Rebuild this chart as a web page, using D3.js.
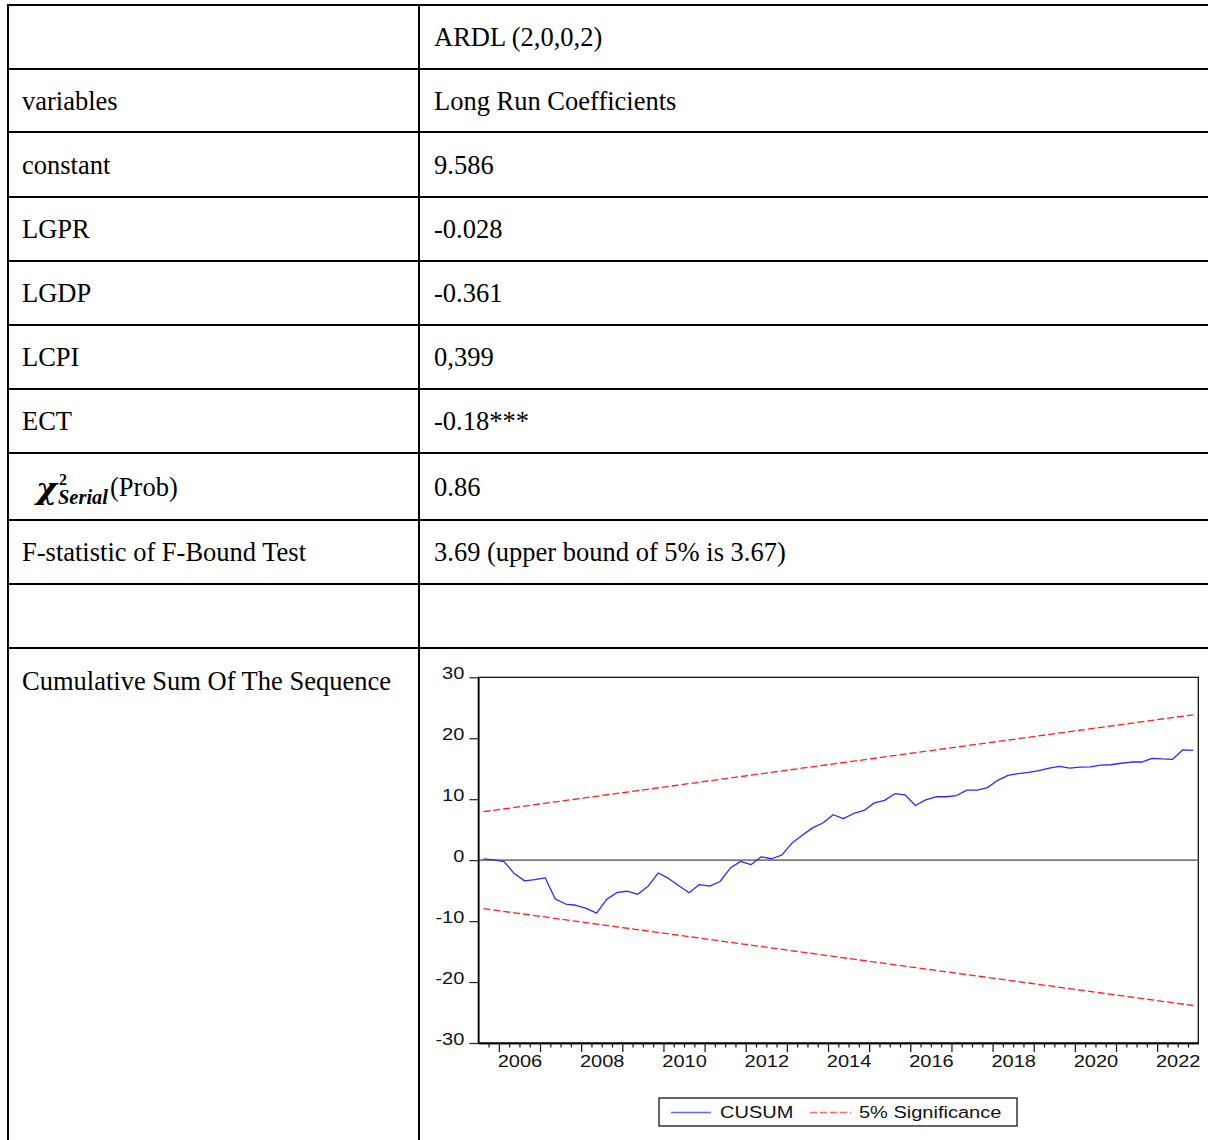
<!DOCTYPE html>
<html>
<head>
<meta charset="utf-8">
<script src="https://cdn.jsdelivr.net/npm/d3@7"></script>
<style>
  html, body { margin: 0; padding: 0; background: #fff; }
  svg { display: block; }
</style>
</head>
<body>
<svg id="chart" width="1208" height="1140"></svg>
<script>
// ---------- DATA ----------
const rowLabels = ["", "variables", "constant", "LGPR", "LGDP", "LCPI", "ECT", "CHI", "F-statistic of F-Bound Test", "", "Cumulative Sum Of The Sequence"];
const rowValues = ["ARDL (2,0,0,2)", "Long Run Coefficients", "9.586", "-0.028", "-0.361", "0,399", "-0.18***", "0.86", "3.69 (upper bound of 5% is 3.67)", "", ""];

// quarterly periods 2005Q3 .. 2022Q4
const quarters = [];
for (let yr = 2005; yr <= 2022; yr++) for (let q = 1; q <= 4; q++) { if (yr === 2005 && q < 3) continue; quarters.push(yr + "Q" + q); }

const cusum = [0.2, 0.05, -0.25, -2.2, -3.4, -3.2, -2.9, -6.4, -7.2, -7.4,
  -7.9, -8.7, -6.4, -5.3, -5.1, -5.6, -4.3, -2.1, -3.0, -4.2,
  -5.35, -4.0, -4.25, -3.5, -1.3, -0.2, -0.75, 0.55, 0.23, 0.82,
  2.8, 4.1, 5.3, 6.1, 7.45, 6.8, 7.66, 8.15, 9.4, 9.8,
  10.9, 10.7, 8.97, 9.9, 10.4, 10.4, 10.6, 11.5, 11.5, 11.9,
  13.1, 13.9, 14.2, 14.4, 14.7, 15.1, 15.4, 15.1, 15.25, 15.3,
  15.6, 15.65, 15.9, 16.1, 16.1, 16.7, 16.6, 16.55, 18.1, 18.0];
const upperBound = [{period: "2005Q3", value: 7.95}, {period: "2022Q4", value: 23.85}];
const lowerBound = [{period: "2005Q3", value: -7.95}, {period: "2022Q4", value: -23.85}];
const yTicks = [-30, -20, -10, 0, 10, 20, 30];
const yearLabels = [2006, 2008, 2010, 2012, 2014, 2016, 2018, 2020, 2022];
const legendItems = ["CUSUM", "5% Significance"];

// ---------- TABLE ----------
const svg = d3.select("#chart");
const rowEdges = [5, 69, 132, 197, 261, 325, 389, 453, 520, 584, 648, 1140];
const tableLeft = 8, divider = 419, tableRight = 1208;
const serif = "'Liberation Serif', 'Times New Roman', serif";
const sans = "'Liberation Sans', Arial, sans-serif";

const tbl = svg.append("g");
rowEdges.slice(0, -1).forEach(yv => {
  tbl.append("line").attr("x1", tableLeft - 1).attr("x2", tableRight).attr("y1", yv).attr("y2", yv)
    .attr("stroke", "#000").attr("stroke-width", 2);
});
[tableLeft, divider].forEach(xv => {
  tbl.append("line").attr("x1", xv).attr("x2", xv).attr("y1", rowEdges[0] - 1).attr("y2", 1140)
    .attr("stroke", "#000").attr("stroke-width", 2);
});

rowLabels.forEach((lab, i) => {
  const top = rowEdges[i], bot = rowEdges[i + 1];
  const base = (i === rowLabels.length - 1) ? top + 42 : (top + bot) / 2 + 9;
  if (lab === "CHI") {
    const g = tbl.append("g");
    g.append("text").attr("x", 36).attr("y", base + 3).attr("font-size", 30)
      .attr("font-family", "'DejaVu Serif', serif")
      .attr("font-weight", "bold").attr("font-style", "italic")
      .attr("textLength", 21).attr("lengthAdjust", "spacingAndGlyphs").text("χ");
    g.append("text").attr("x", 59).attr("y", base - 11).attr("font-size", 16)
      .attr("font-family", serif).attr("font-weight", "bold").text("2");
    g.append("text").attr("x", 58).attr("y", base + 8).attr("font-size", 20)
      .attr("font-family", serif)
      .attr("font-weight", "bold").attr("font-style", "italic")
      .attr("textLength", 50).attr("lengthAdjust", "spacingAndGlyphs").text("Serial");
    g.append("text").attr("x", 110).attr("y", base).attr("font-size", 26.5)
      .attr("font-family", serif).text("(Prob)");
  } else if (lab) {
    tbl.append("text").attr("x", 22).attr("y", base).attr("font-family", serif)
      .attr("font-size", 26.5).text(lab);
  }
  if (rowValues[i]) {
    tbl.append("text").attr("x", 434).attr("y", base).attr("font-family", serif)
      .attr("font-size", 26.5).text(rowValues[i]);
  }
});

// ---------- CHART ----------
const nQ = quarters.length;
const x = d3.scaleLinear().domain([0, nQ]).range([478.3, 1198.3]);
const y = d3.scaleLinear().domain([-30, 30]).range([1043, 677.3]);
const qIndex = p => quarters.indexOf(p) + 0.5;
const stretch = function () {
  const l = this.getComputedTextLength();
  this.setAttribute("textLength", l * 1.25);
  this.setAttribute("lengthAdjust", "spacingAndGlyphs");
};

const ch = svg.append("g");
// frame
ch.append("rect").attr("x", x(0)).attr("y", y(30)).attr("width", x(nQ) - x(0)).attr("height", y(-30) - y(30))
  .attr("fill", "none").attr("stroke", "#000").attr("stroke-width", 1.2);

// zero line
ch.append("line").attr("x1", x(0)).attr("x2", x(nQ)).attr("y1", y(0)).attr("y2", y(0))
  .attr("stroke", "#7a7a7a").attr("stroke-width", 1.6);

// y axis
const yAxis = ch.append("g").attr("transform", `translate(${x(0)},0)`)
  .call(d3.axisLeft(y).tickValues(yTicks).tickSize(9).tickSizeOuter(0).tickPadding(5).tickFormat(d => String(d)));
yAxis.select(".domain").attr("stroke", "#000").attr("stroke-width", 1.6);
yAxis.selectAll(".tick line").attr("stroke", "#222").attr("stroke-width", 1.2);
yAxis.selectAll("text").attr("font-family", sans).attr("font-size", 16).attr("fill", "#111")
  .attr("dy", "0.1em").each(stretch);

// x axis: minor quarterly ticks
const minorIdx = d3.range(1, nQ).filter(i => quarters[i].slice(4) !== "Q1");
const majorIdx = d3.range(1, nQ).filter(i => quarters[i].slice(4) === "Q1");
const xMinor = ch.append("g").attr("transform", `translate(0,${y(-30)})`)
  .call(d3.axisBottom(x).tickValues(minorIdx).tickSize(4.5).tickSizeOuter(0).tickFormat(""));
const xMajor = ch.append("g").attr("transform", `translate(0,${y(-30)})`)
  .call(d3.axisBottom(x).tickValues(majorIdx).tickSize(9).tickSizeOuter(0).tickFormat(""));
[xMinor, xMajor].forEach(a => {
  a.select(".domain").attr("stroke", "#000").attr("stroke-width", 1.4);
  a.selectAll(".tick line").attr("stroke", "#222").attr("stroke-width", 1.3);
});
const labelPos = yearLabels.map(yr => quarters.indexOf(yr + "Q1") + 2);
const xLab = ch.append("g").attr("transform", `translate(0,${y(-30)})`)
  .call(d3.axisBottom(x).tickValues(labelPos).tickSize(0).tickPadding(13)
    .tickFormat(d => quarters[d - 2].slice(0, 4)));
xLab.select(".domain").remove();
xLab.selectAll("text").attr("font-family", sans).attr("font-size", 16).attr("fill", "#111").each(stretch);

// bounds
const bLine = d3.line().x(d => x(qIndex(d.period))).y(d => y(d.value));
[upperBound, lowerBound].forEach(b => {
  ch.append("path").datum(b).attr("d", bLine).attr("fill", "none")
    .attr("stroke", "#ff2020").attr("stroke-width", 1.3).attr("stroke-dasharray", "7,3");
});

// CUSUM
const cLine = d3.line().x((d, i) => x(i + 0.5)).y(d => y(d));
ch.append("path").datum(cusum).attr("d", cLine).attr("fill", "none")
  .attr("stroke", "#2a2aff").attr("stroke-width", 1.3).attr("stroke-linejoin", "round");

// legend
const lg = ch.append("g");
lg.append("rect").attr("x", 659).attr("y", 1098).attr("width", 358).attr("height", 28)
  .attr("fill", "#fff").attr("stroke", "#000").attr("stroke-width", 1.2);
lg.append("line").attr("x1", 671).attr("x2", 711).attr("y1", 1112.5).attr("y2", 1112.5)
  .attr("stroke", "#6a6aff").attr("stroke-width", 1.3);
lg.append("text").attr("x", 720).attr("y", 1118).attr("font-family", sans).attr("font-size", 16)
  .attr("fill", "#111").text(legendItems[0]).each(stretch);
lg.append("line").attr("x1", 810).attr("x2", 851).attr("y1", 1112.5).attr("y2", 1112.5)
  .attr("stroke", "#ff6a6a").attr("stroke-width", 1.3).attr("stroke-dasharray", "7,3");
lg.append("text").attr("x", 859).attr("y", 1118).attr("font-family", sans).attr("font-size", 16)
  .attr("fill", "#111").text(legendItems[1]).each(stretch);
</script>
</body>
</html>
